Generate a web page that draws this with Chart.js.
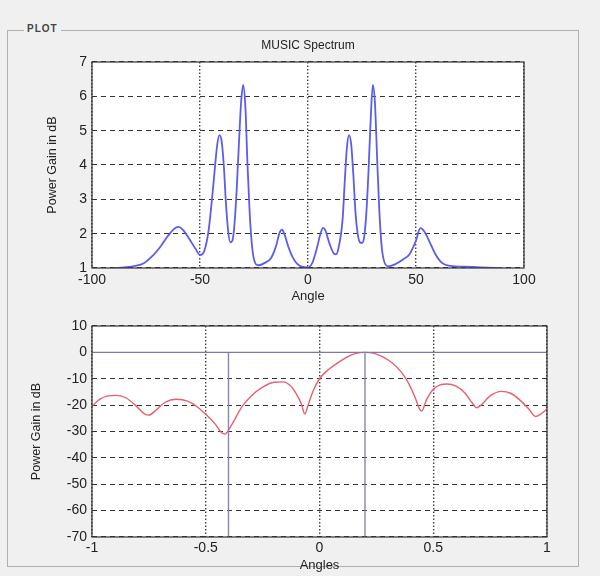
<!DOCTYPE html>
<html>
<head>
<meta charset="utf-8">
<script src="https://cdn.jsdelivr.net/npm/chart.js@4"></script>
<style>
  body { margin: 0; background: #f0f0f0; width: 600px; height: 576px; position: relative; overflow: hidden; font-family: "Liberation Sans", Arial, sans-serif; }
  #panel { position: absolute; left: 7px; top: 30px; width: 570px; height: 535px; border: 1px solid #b0b0b0; }
  #panelLabel { position: absolute; left: 24px; top: 23px; padding: 0 3px; background: #f0f0f0; font-size: 10px; font-weight: bold; letter-spacing: 1px; color: #444; }
  canvas { position: absolute; left: 0; }
  #musicChart { top: 0; }
  #patternChart { top: 300px; }
</style>
</head>
<body>
<div id="panel"></div>
<div id="panelLabel">PLOT</div>
<canvas id="musicChart" width="600" height="310"></canvas>
<canvas id="patternChart" width="600" height="276"></canvas>
<script>
// MUSIC spectrum (top)
var musicAngles = [-90, -85, -80, -76, -72, -68, -65, -62, -60, -58, -55, -52, -50, -48, -46, -44, -42, -41, -40, -39, -38, -37, -36, -35, -34, -33, -32, -31, -30, -29, -28, -27, -26, -25, -23, -20, -17, -15, -13, -12, -11, -9, -7, -5, -3, 0, 2, 4, 6, 7, 8, 10, 12, 13, 14, 16, 17, 18, 19, 20, 21, 22, 23, 24, 25, 26, 27, 28, 29, 30, 31, 32, 33, 34, 35, 37, 40, 44, 47, 50, 52, 54, 56, 59, 62, 66, 72, 80, 90];
var musicGain = [1.00, 1.02, 1.06, 1.14, 1.35, 1.65, 1.92, 2.14, 2.2, 2.12, 1.85, 1.55, 1.38, 1.5, 2.1, 3.3, 4.6, 4.87, 4.7, 4.0, 2.9, 2.1, 1.75, 1.8, 2.3, 3.3, 4.6, 5.8, 6.33, 5.7, 4.0, 2.6, 1.7, 1.25, 1.08, 1.15, 1.3, 1.6, 2.05, 2.12, 2.0, 1.6, 1.3, 1.12, 1.04, 1.02, 1.15, 1.55, 2.05, 2.17, 2.1, 1.7, 1.42, 1.4, 1.55, 2.4, 3.5, 4.5, 4.87, 4.6, 3.7, 2.6, 2.0, 1.75, 1.73, 1.9, 2.6, 3.8, 5.3, 6.33, 5.8, 4.2, 2.7, 1.7, 1.25, 1.05, 1.1, 1.25, 1.4, 1.8, 2.16, 2.05, 1.8, 1.4, 1.15, 1.06, 1.04, 1.02, 1.00];

// array pattern (bottom)
var patternAngles = [-1.00, -0.97, -0.93, -0.89, -0.85, -0.81, -0.77, -0.75, -0.72, -0.68, -0.63, -0.58, -0.54, -0.50, -0.46, -0.43, -0.415, -0.40, -0.37, -0.34, -0.30, -0.25, -0.20, -0.16, -0.13, -0.10, -0.08, -0.065, -0.05, -0.03, 0.00, 0.04, 0.08, 0.12, 0.16, 0.20, 0.24, 0.28, 0.32, 0.36, 0.39, 0.42, 0.44, 0.45, 0.47, 0.50, 0.53, 0.56, 0.60, 0.64, 0.67, 0.69, 0.71, 0.75, 0.80, 0.84, 0.88, 0.92, 0.95, 0.97, 1.00];
var patternGain = [-20.5, -18, -16.5, -16.3, -17.3, -20, -23.3, -23.8, -22, -19, -17.8, -18.5, -20.5, -23.5, -27, -30.5, -31, -29.5, -25, -20.5, -16.5, -13.2, -11.3, -11.2, -12.5, -16, -19.5, -23.3, -20, -15, -10, -6.5, -4, -1.8, -0.4, 0, -0.4, -1.8, -4, -7.5, -11.5, -17, -21.5, -22.2, -18, -14, -12.3, -12, -12.8, -15.5, -19, -21, -20, -16.5, -14.8, -15.5, -18, -21.5, -24.3, -23.5, -21.5];
var doaMarks = [-0.4, 0.2];

var FONT = "'Liberation Sans', Arial, sans-serif";
var TEXT = "#222";

function pts(xs, ys) {
    return xs.map(function(x, i) { return {x: x, y: ys[i]}; });
}

var boxPlugin = {
    id: "box",
    beforeDraw: function(chart) {
        var a = chart.chartArea, ctx = chart.ctx;
        ctx.save();
        ctx.fillStyle = "#fff";
        ctx.fillRect(a.left, a.top, a.right - a.left, a.bottom - a.top);
        ctx.restore();
    },
    afterDatasetsDraw: function(chart) {
        var a = chart.chartArea, ctx = chart.ctx;
        ctx.save();
        ctx.strokeStyle = "#333";
        ctx.lineWidth = 1.2;
        ctx.strokeRect(a.left, a.top, a.right - a.left, a.bottom - a.top);
        ctx.restore();
    }
};

function xScale(min, max, step, label, height, tickPad, titlePad) {
    return {
        type: "linear", min: min, max: max,
        afterFit: function(s) { s.height = height; },
        ticks: { stepSize: step, color: TEXT, font: {family: FONT, size: 14}, padding: tickPad, maxRotation: 0,
                 callback: function(v) { return String(+v.toFixed(2)); } },
        grid: { color: "#444", lineWidth: 1.4, drawTicks: false },
        border: { display: false, dash: [1.5, 2] },
        title: { display: true, text: label, color: TEXT, font: {family: FONT, size: 13}, padding: {top: 0, bottom: titlePad} }
    };
}

function yScale(min, max, step, titlePad) {
    return {
        min: min, max: max,
        afterFit: function(s) { s.width = 92; },
        ticks: { stepSize: step, color: TEXT, font: {family: FONT, size: 14}, padding: 5 },
        grid: { color: "#333", lineWidth: 1.1, drawTicks: false },
        border: { display: false, dash: [5, 4] },
        title: { display: true, text: "Power Gain in dB", color: TEXT, font: {family: FONT, size: 12.5}, padding: {top: titlePad, bottom: 0} }
    };
}

new Chart(document.getElementById("musicChart"), {
    type: "line",
    data: {
        datasets: [{
            data: pts(musicAngles, musicGain),
            borderColor: "#5c5cee",
            borderWidth: 1.8,
            pointRadius: 0,
            cubicInterpolationMode: "monotone"
        }]
    },
    options: {
        responsive: false,
        animation: false,
        layout: { padding: {top: 30, left: 0, right: 76, bottom: 0} },
        plugins: {
            legend: { display: false },
            tooltip: { enabled: false },
            title: { display: true, fullSize: false, text: "MUSIC Spectrum", color: TEXT, font: {family: FONT, size: 12, weight: "normal"}, padding: {top: 8, bottom: 9.6} }
        },
        scales: {
            x: xScale(-100, 100, 50, "Angle", 42, 4, 6),
            y: yScale(1, 7, 1, 45)
        }
    },
    plugins: [boxPlugin]
});

var stemSets = doaMarks.map(function(d) {
    return {
        data: [{x: d, y: 0}, {x: d, y: -70}],
        borderColor: "#8a84b4",
        borderWidth: 1.4,
        pointRadius: 0
    };
});

new Chart(document.getElementById("patternChart"), {
    type: "line",
    data: {
        datasets: [{
            data: [{x: -1, y: 0}, {x: 1, y: 0}],
            borderColor: "#7d7aa8",
            borderWidth: 1.4,
            pointRadius: 0
        }].concat(stemSets).concat([{
            data: pts(patternAngles, patternGain),
            borderColor: "#e8606c",
            borderWidth: 1.4,
            pointRadius: 0,
            cubicInterpolationMode: "monotone"
        }])
    },
    options: {
        responsive: false,
        animation: false,
        layout: { padding: {top: 26, left: 0, right: 53, bottom: 0} },
        plugins: { legend: { display: false }, tooltip: { enabled: false } },
        scales: {
            x: xScale(-1, 1, 0.5, "Angles", 39, 3, 3),
            y: yScale(-70, 10, 10, 29.5)
        }
    },
    plugins: [boxPlugin]
});
</script>
</body>
</html>
